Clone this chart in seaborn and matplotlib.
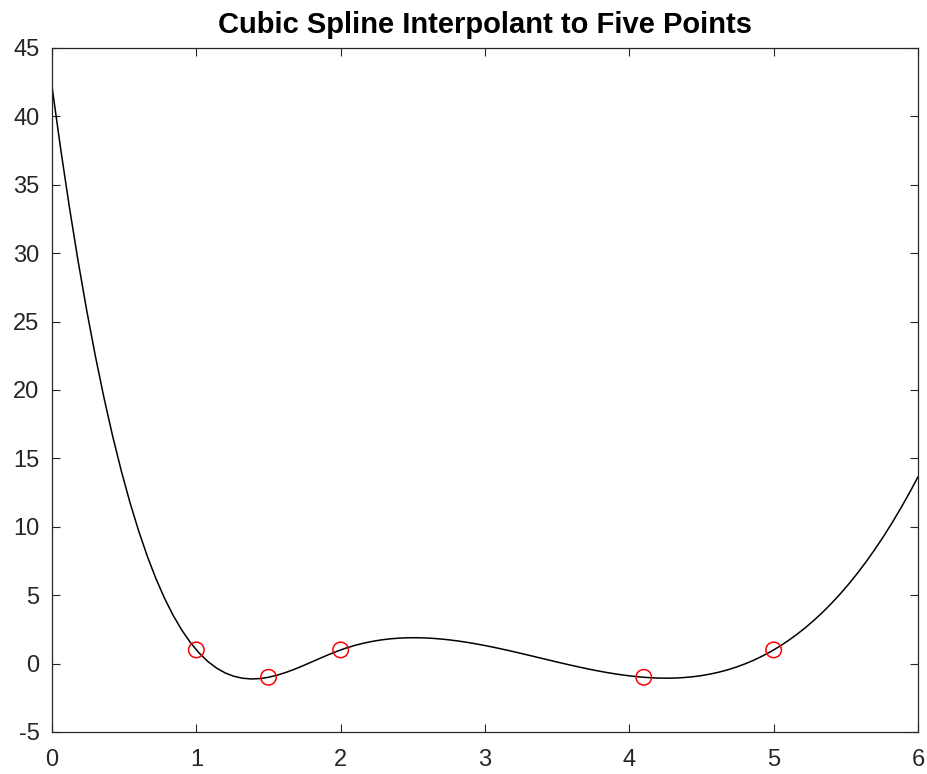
import numpy as np
import pandas as pd
import matplotlib
matplotlib.use("Agg")
import matplotlib.pyplot as plt
import seaborn as sns

# Interpolation nodes
x_pts = [1.0, 1.5, 2.0, 4.1, 5.0]
y_pts = [1.0, -1.0, 1.0, -1.0, 1.0]

x_ticks = [0, 1, 2, 3, 4, 5, 6]
y_ticks = [-5, 0, 5, 10, 15, 20, 25, 30, 35, 40, 45]
title = "Cubic Spline Interpolant to Five Points"


def not_a_knot_spline(x, y):
    """Return an evaluator for the not-a-knot cubic spline through (x, y)."""
    x = np.asarray(x, float)
    y = np.asarray(y, float)
    n = len(x)
    h = np.diff(x)
    A = np.zeros((n, n))
    b = np.zeros(n)
    # interior continuity of second derivative (M = second derivatives)
    for i in range(1, n - 1):
        A[i, i - 1] = h[i - 1]
        A[i, i] = 2 * (h[i - 1] + h[i])
        A[i, i + 1] = h[i]
        b[i] = 6 * ((y[i + 1] - y[i]) / h[i] - (y[i] - y[i - 1]) / h[i - 1])
    # not-a-knot: third derivative continuous at x[1] and x[n-2]
    A[0, 0] = -h[1]
    A[0, 1] = h[0] + h[1]
    A[0, 2] = -h[0]
    A[-1, -3] = -h[-1]
    A[-1, -2] = h[-2] + h[-1]
    A[-1, -1] = -h[-2]
    M = np.linalg.solve(A, b)

    def evaluate(t):
        t = np.asarray(t, float)
        k = np.clip(np.searchsorted(x, t) - 1, 0, n - 2)
        hk = h[k]
        dx = t - x[k]
        a = y[k]
        c2 = M[k] / 2
        c3 = (M[k + 1] - M[k]) / (6 * hk)
        c1 = (y[k + 1] - y[k]) / hk - hk * (2 * M[k] + M[k + 1]) / 6
        return a + c1 * dx + c2 * dx ** 2 + c3 * dx ** 3

    return evaluate


spline = not_a_knot_spline(x_pts, y_pts)
xx = np.linspace(0, 6, 101)
curve = pd.DataFrame({"x": xx, "y": spline(xx)})
points = pd.DataFrame({"x": x_pts, "y": y_pts})

sns.set_theme(style="white")
plt.rcParams["font.family"] = ["Liberation Sans", "DejaVu Sans"]
plt.rcParams["axes.unicode_minus"] = False

fig = plt.figure(figsize=(9.27, 7.74), dpi=100)
ax = fig.add_axes([52 / 927, 1 - 732 / 774, (918 - 52) / 927, (732 - 48) / 774])

axis_color = "#262626"
sns.scatterplot(data=points, x="x", y="y", ax=ax, marker="o", s=125,
                facecolors="none", edgecolor="#ff0000", linewidth=1.1, zorder=3)
sns.lineplot(data=curve, x="x", y="y", ax=ax, color="#000000", linewidth=1.1,
             zorder=2, sort=False)

ax.set_xlim(0, 6)
ax.set_ylim(-5, 45)
ax.set_xticks(x_ticks)
ax.set_yticks(y_ticks)
ax.set_xlabel("")
ax.set_ylabel("")
ax.tick_params(direction="in", length=6, width=0.8, colors=axis_color,
               labelsize=17, top=True, right=True, bottom=True, left=True,
               labelcolor=axis_color)
ax.tick_params(axis="x", pad=12)
ax.tick_params(axis="y", pad=9)
for sp in ax.spines.values():
    sp.set_visible(True)
    sp.set_color(axis_color)
    sp.set_linewidth(0.9)
ax.set_title(title, fontsize=21, fontweight="bold", color="#000000", pad=11)

fig.savefig("out.png", dpi=100)
